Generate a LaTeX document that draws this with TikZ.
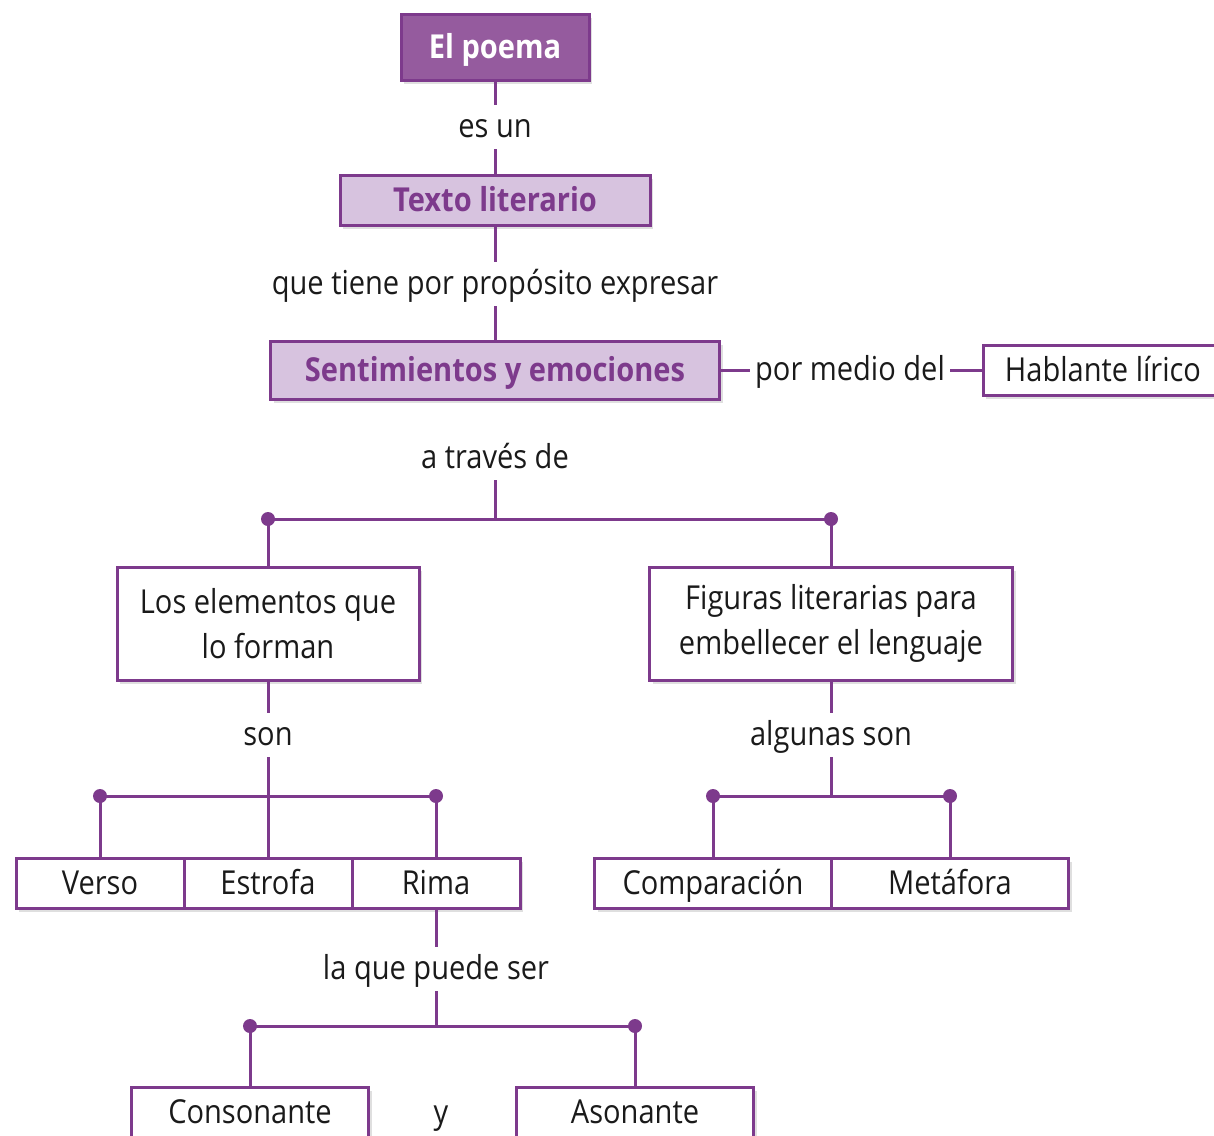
\documentclass[tikz,border=0pt]{standalone}
\usepackage{fontspec}
\setmainfont{Open Sans}[FakeStretch=0.88]
\usepackage{xcolor}
\usetikzlibrary{positioning, calc, shadows}
\definecolor{primary}{HTML}{7D3A8C}
\definecolor{darkfill}{HTML}{955B9E}
\definecolor{lightfill}{HTML}{D7C3DF}
\definecolor{inkgray}{HTML}{1A1A1A}

\begin{document}
\begin{tikzpicture}[
  x=1pt, y=-1pt,
  font=\fontsize{33}{45}\selectfont, text=inkgray,
  base/.style={rectangle, draw=primary, line width=3pt, inner sep=0pt,
               text height=27pt, text depth=4pt,
               drop shadow={opacity=0.25, shadow xshift=3pt, shadow yshift=-4pt}},
  dark/.style={base, fill=darkfill, text=white, font=\fontsize{33}{45}\selectfont\bfseries},
  light/.style={base, fill=lightfill, text=primary, font=\fontsize{33}{45}\selectfont\bfseries},
  plain/.style={base, fill=white},
  twoline/.style={plain, align=center, text height=, text depth=},
  lbl/.style={inner xsep=5pt, inner ysep=6pt, text height=26pt, text depth=6pt},
  link/.style={primary, line width=3pt},
  dot/.style={fill=primary}
]
  \useasboundingbox (0,0) rectangle (1214,1135);
  \clip (0,0) rectangle (1214,1135);

  % upper chain
  \node[dark, minimum width=188pt, minimum height=66pt] (poema) at (495,47) {El poema};
  \node[lbl] (esun) at (495,127) {es un};
  \node[light, minimum width=310pt, minimum height=50pt] (texto) at (495,200) {Texto literario};
  \node[lbl] (proposito) at (495,284) {que tiene por propósito expresar};
  \node[light, minimum width=449pt, minimum height=58pt] (senti) at (495,370) {Sentimientos y emociones};
  \node[lbl] (medio) at (850,370) {por medio del};
  \node[plain, minimum width=240pt, minimum height=50pt] (hablante) at (1103,370) {Hablante lírico};
  \node[lbl] (traves) at (495,458) {a través de};

  \draw[link] (poema) -- (esun);
  \draw[link] (esun) -- (texto);
  \draw[link] (texto) -- (proposito);
  \draw[link] (proposito) -- (senti);
  \draw[link] (senti) -- (medio);
  \draw[link] (medio) -- (hablante);

  % first split
  \coordinate (jtop) at (495,519);
  \coordinate (ltop) at (268,519);
  \coordinate (rtop) at (831,519);
  \node[twoline, minimum width=302pt, minimum height=113pt] (elementos) at (268,623.5)
    {Los elementos que\\lo forman};
  \node[twoline, minimum width=363pt, minimum height=113pt] (figuras) at (831,623.5)
    {Figuras literarias para\\embellecer el lenguaje};
  \draw[link] (traves) -- (jtop);
  \draw[link] (ltop) -- (rtop);
  \draw[link] (ltop) -- (elementos);
  \draw[link] (rtop) -- (figuras);
  \fill[dot] (ltop) circle (7pt);
  \fill[dot] (rtop) circle (7pt);

  % left branch
  \node[lbl] (son) at (268,735) {son};
  \coordinate (lsplit) at (100,796);
  \coordinate (rsplit) at (436,796);
  \node[plain, minimum width=168pt, minimum height=50pt] (verso) at (100,883) {Verso};
  \node[plain, minimum width=168pt, minimum height=50pt] (estrofa) at (268,883) {Estrofa};
  \node[plain, minimum width=168pt, minimum height=50pt] (rima) at (436,883) {Rima};
  \draw[link] (elementos) -- (son);
  \draw[link] (son) -- (estrofa);
  \draw[link] (lsplit) -- (rsplit);
  \draw[link] (lsplit) -- (verso);
  \draw[link] (rsplit) -- (rima);
  \fill[dot] (lsplit) circle (7pt);
  \fill[dot] (rsplit) circle (7pt);

  % right branch
  \node[lbl] (algunas) at (831,735) {algunas son};
  \coordinate (jfig) at (831,796);
  \coordinate (lfig) at (713,796);
  \coordinate (rfig) at (950,796);
  \node[plain, minimum width=237pt, minimum height=50pt] (comparacion) at (713,883) {Comparación};
  \node[plain, minimum width=237pt, minimum height=50pt] (metafora) at (950,883) {Metáfora};
  \draw[link] (figuras) -- (algunas);
  \draw[link] (algunas) -- (jfig);
  \draw[link] (lfig) -- (rfig);
  \draw[link] (lfig) -- (comparacion);
  \draw[link] (rfig) -- (metafora);
  \fill[dot] (lfig) circle (7pt);
  \fill[dot] (rfig) circle (7pt);

  % rhyme types
  \node[lbl] (puede) at (436,969) {la que puede ser};
  \coordinate (jrima) at (436,1026);
  \coordinate (lrima) at (250,1026);
  \coordinate (rrima) at (635,1026);
  \node[plain, minimum width=237pt, minimum height=50pt] (consonante) at (250,1112) {Consonante};
  \node[plain, minimum width=237pt, minimum height=50pt] (asonante) at (635,1112) {Asonante};
  \node[lbl] (y) at (441,1113) {y};
  \draw[link] (rima) -- (puede);
  \draw[link] (puede) -- (jrima);
  \draw[link] (lrima) -- (rrima);
  \draw[link] (lrima) -- (consonante);
  \draw[link] (rrima) -- (asonante);
  \fill[dot] (lrima) circle (7pt);
  \fill[dot] (rrima) circle (7pt);
\end{tikzpicture}
\end{document}
